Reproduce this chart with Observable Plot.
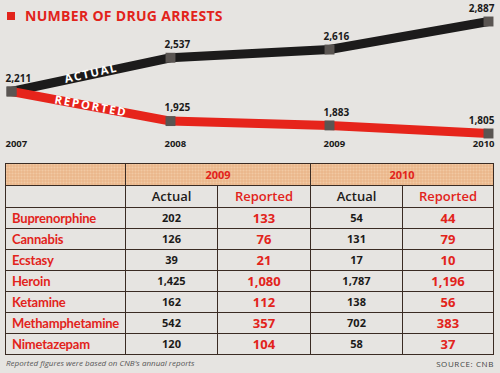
<!DOCTYPE html>
<html><head><meta charset="utf-8">
<script src="https://cdn.jsdelivr.net/npm/d3@7"></script>
<script src="https://cdn.jsdelivr.net/npm/@observablehq/plot@0.6"></script>
<style>
body{margin:0;background:#e6e4e1;width:500px;height:373px;overflow:hidden;font-family:"Open Sans",sans-serif;position:relative}
#title{position:absolute;left:7px;top:6px;color:#e2231b;font-weight:700;font-size:14px;letter-spacing:0.3px;white-space:nowrap;line-height:20px;z-index:2}
#title .sq{display:inline-block;width:8px;height:8px;background:#e2231b;margin-right:10px;vertical-align:1px}
#chart{position:absolute;left:0;top:0}
table{position:absolute;left:5px;top:163px;width:488px;border-collapse:collapse;table-layout:fixed}
td{border:1px solid #3a2b23;padding:0;text-align:center;height:20px;line-height:20px;overflow:hidden;white-space:nowrap}
tr.h1 td{background-color:#f1c9a3;background-image:radial-gradient(circle,#e7ad80 0.9px,transparent 1.3px);background-size:3px 3px;color:#e2231b;font-weight:700;font-size:11px;height:21px;line-height:21px}
tr.h2 td{font-size:13px;font-weight:600;color:#1d1b1a;height:21px;line-height:21px}
tr.h2 td.r{color:#e2231b}
td.name{text-align:left;padding-left:6px;color:#e2231b;font-weight:700;font-size:13px;font-family:Lato,sans-serif;letter-spacing:-0.2px}
td.a{color:#1b1a19;font-weight:700;font-size:11px}
td.rp{color:#e2231b;font-weight:700;font-size:13px}
#foot{position:absolute;left:6px;top:357px;font-size:8px;font-style:italic;color:#555}
#src{position:absolute;right:6px;top:358px;font-size:8px;color:#444;letter-spacing:0.6px}
</style></head><body>
<div id="chart"></div>
<div id="title"><span class="sq"></span>NUMBER OF DRUG ARRESTS</div>
<table id="tbl"></table>
<div id="foot">Reported figures were based on CNB's annual reports</div>
<div id="src">SOURCE: CNB</div>
<script>
const years = [2007, 2008, 2009, 2010];
const actualTotals = [2211, 2537, 2616, 2887];
const reportedTotals = [2211, 1925, 1883, 1805];

const tableYears = ["2009", "2010"];
const drugs = ["Buprenorphine", "Cannabis", "Ecstasy", "Heroin", "Ketamine", "Methamphetamine", "Nimetazepam"];
const actual2009 = [202, 126, 39, 1425, 162, 542, 120];
const reported2009 = [133, 76, 21, 1080, 112, 357, 104];
const actual2010 = [54, 131, 17, 1787, 138, 702, 58];
const reported2010 = [44, 79, 10, 1196, 56, 383, 37];

const fmt = d3.format(",");
const rows = years.flatMap((y, i) => [
  {year: y, value: actualTotals[i], series: "Actual"},
  {year: y, value: reportedTotals[i], series: "Reported"}
]);
const actualPts = years.map((y, i) => ({year: y, value: actualTotals[i]}));
const reportedPts = years.map((y, i) => ({year: y, value: reportedTotals[i]})).slice(1);
const last = years[years.length - 1];

const labelActual = [{year: (years[0] + years[1]) / 2, value: (actualTotals[0] + actualTotals[1]) / 2, t: "ACTUAL"}];
const labelReported = [{year: (years[0] + years[1]) / 2, value: (reportedTotals[0] + reportedTotals[1]) / 2, t: "REPORTED"}];

const valText = (data, anchor, dx) => Plot.text(data, {
  x: "year", y: "value", text: d => fmt(d.value), textAnchor: anchor, dx, dy: -13,
  fontSize: 10, fontWeight: 700, fill: "#1a1a1a"
});

const plot = Plot.plot({
  width: 500, height: 158,
  marginTop: 0, marginBottom: 0, marginLeft: 0, marginRight: 0,
  style: {background: "transparent", overflow: "visible", fontFamily: "Open Sans, sans-serif"},
  x: {domain: [2007, 2010], range: [11, 488], axis: null},
  y: {domain: [1805, 2887], range: [133, 21], axis: null},
  color: {domain: ["Actual", "Reported"], range: ["#1c1b1b", "#e6241b"]},
  marks: [
    Plot.line(rows, {x: "year", y: "value", z: "series", stroke: "series", strokeWidth: 9, strokeLinejoin: "round"}),
    Plot.dot(rows, {x: "year", y: "value", symbol: "square", r: 5.6, fill: "#5a5552", stroke: "none"}),
    Plot.text(labelActual, {x: "year", y: "value", text: "t", rotate: -12.5, fill: "white", fontSize: 11.5, fontWeight: 700, dy: -1}),
    Plot.text(labelReported, {x: "year", y: "value", text: "t", rotate: 10.5, fill: "white", fontSize: 11.5, fontWeight: 700, dy: 0}),
    valText(actualPts.filter(d => d.year !== last), "start", -6),
    valText(actualPts.filter(d => d.year === last), "end", 6),
    valText(reportedPts.filter(d => d.year !== last), "start", -6),
    valText(reportedPts.filter(d => d.year === last), "end", 6),
    Plot.text(years.filter(y => y !== last), {x: d => d, text: d => String(d), frameAnchor: "bottom", textAnchor: "start", dx: -6, dy: -12, fontSize: 9.5, fontWeight: 700, fill: "#1a1a1a"}),
    Plot.text(years.filter(y => y === last), {x: d => d, text: d => String(d), frameAnchor: "bottom", textAnchor: "end", dx: 6, dy: -12, fontSize: 9.5, fontWeight: 700, fill: "#1a1a1a"})
  ]
});
plot.querySelectorAll("text").forEach(t => {
  if (t.textContent === "REPORTED") t.style.letterSpacing = "1.8px";
  if (t.textContent === "ACTUAL") t.style.letterSpacing = "1.5px";
});
document.getElementById("chart").appendChild(plot);

// table
const tbl = document.getElementById("tbl");
const cg = document.createElement("colgroup");
[120, 92, 93, 92, 91].forEach(w => { const c = document.createElement("col"); c.style.width = w + "px"; cg.appendChild(c); });
tbl.appendChild(cg);
let h = `<tr class="h1"><td></td>` + tableYears.map(y => `<td colspan="2">${y}</td>`).join("") + `</tr>`;
h += `<tr class="h2"><td></td>` + tableYears.map(() => `<td>Actual</td><td class="r">Reported</td>`).join("") + `</tr>`;
drugs.forEach((d, i) => {
  h += `<tr><td class="name">${d}</td><td class="a">${fmt(actual2009[i])}</td><td class="rp">${fmt(reported2009[i])}</td><td class="a">${fmt(actual2010[i])}</td><td class="rp">${fmt(reported2010[i])}</td></tr>`;
});
tbl.insertAdjacentHTML("beforeend", h);
</script>
</body></html>
